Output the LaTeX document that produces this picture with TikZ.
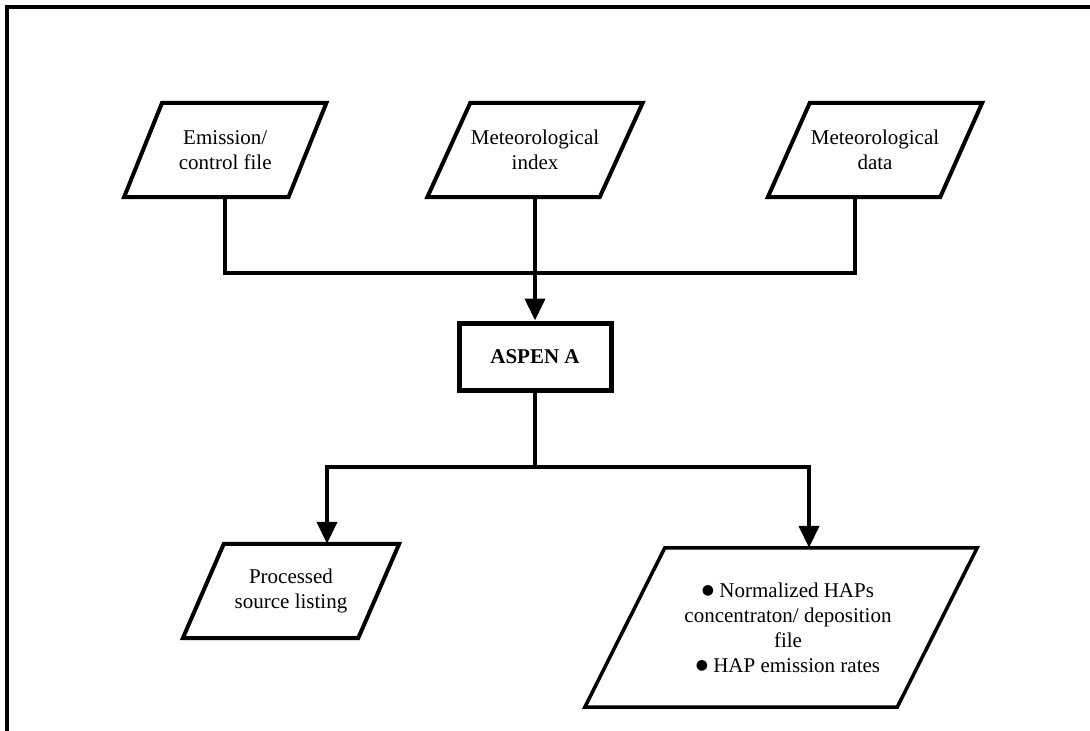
\documentclass[tikz,border=0pt]{standalone}
\usepackage{fontspec}
\setmainfont{Liberation Serif}
\newfontfamily\symfont{DejaVu Sans}
\newcommand{\bigbul}{\raisebox{2.5pt}{\symfont\fontsize{14}{14}\selectfont ●}}
\usetikzlibrary{arrows.meta}
\begin{document}
\begin{tikzpicture}[x=1pt,y=-1pt,
  box/.style={rectangle,inner sep=0pt,align=center,font=\fontsize{21}{25}\selectfont},
  pline/.style={line width=4pt,line join=miter},
  conn/.style={line width=4pt},
  arr/.style={conn,-{Triangle[width=20pt,length=22pt]}}]
\useasboundingbox (0,0) rectangle (1090,731);
% frame
\draw[line width=4pt,line join=miter] (7,731) -- (7,7) -- (1090,7);

% input parallelograms
\node[box,minimum width=164pt,minimum height=94pt] (emis) at (225.25,150) {Emission/\\control file};
\draw[pline] ([xshift=19pt]emis.north west) -- ([xshift=19pt]emis.north east) -- ([xshift=-19pt]emis.south east) -- ([xshift=-19pt]emis.south west) -- cycle;

\node[box,minimum width=172pt,minimum height=94pt] (idx) at (535,150) {Meteorological\\index};
\draw[pline] ([xshift=21.5pt]idx.north west) -- ([xshift=21.5pt]idx.north east) -- ([xshift=-21.5pt]idx.south east) -- ([xshift=-21.5pt]idx.south west) -- cycle;

\node[box,minimum width=172pt,minimum height=94pt] (data) at (875,150) {Meteorological\\data};
\draw[pline] ([xshift=21pt]data.north west) -- ([xshift=21pt]data.north east) -- ([xshift=-21pt]data.south east) -- ([xshift=-21pt]data.south west) -- cycle;

% ASPEN box
\node[box,draw,line width=5pt,minimum width=152pt,minimum height=67pt] (aspen) at (535,356.5) {\textbf{ASPEN A}};

% outputs
\node[box,minimum width=175pt,minimum height=94pt] (proc) at (291,591) {Processed\\source listing};
\draw[pline] ([xshift=20.5pt]proc.north west) -- ([xshift=20.5pt]proc.north east) -- ([xshift=-20.5pt]proc.south east) -- ([xshift=-20.5pt]proc.south west) -- cycle;

\node[box,minimum width=312pt,minimum height=159pt] (out) at (781,627.5) {\hspace*{14pt}\bigbul\ Normalized HAPs\\\hspace*{14pt}concentraton/ deposition\\\hspace*{14pt}file\\\hspace*{14pt}\bigbul\ HAP emission rates};
\draw[line width=3.5pt,line join=miter] ([xshift=40pt]out.north west) -- ([xshift=40pt]out.north east) -- ([xshift=-40pt]out.south east) -- ([xshift=-40pt]out.south west) -- cycle;

% connectors
\coordinate (jtop) at (535,273);
\coordinate (jbot) at (535,467);
\draw[conn] (emis.south) |- (jtop) -| ([xshift=-20pt]data.south);
\draw[arr] (idx.south) -- (aspen.north);
\draw[conn] (aspen.south) -- (jbot);
\draw[arr] (jbot) -| ([xshift=36pt]proc.north);
\draw[arr] (jbot) -| ([xshift=28pt]out.north);
\end{tikzpicture}
\end{document}
